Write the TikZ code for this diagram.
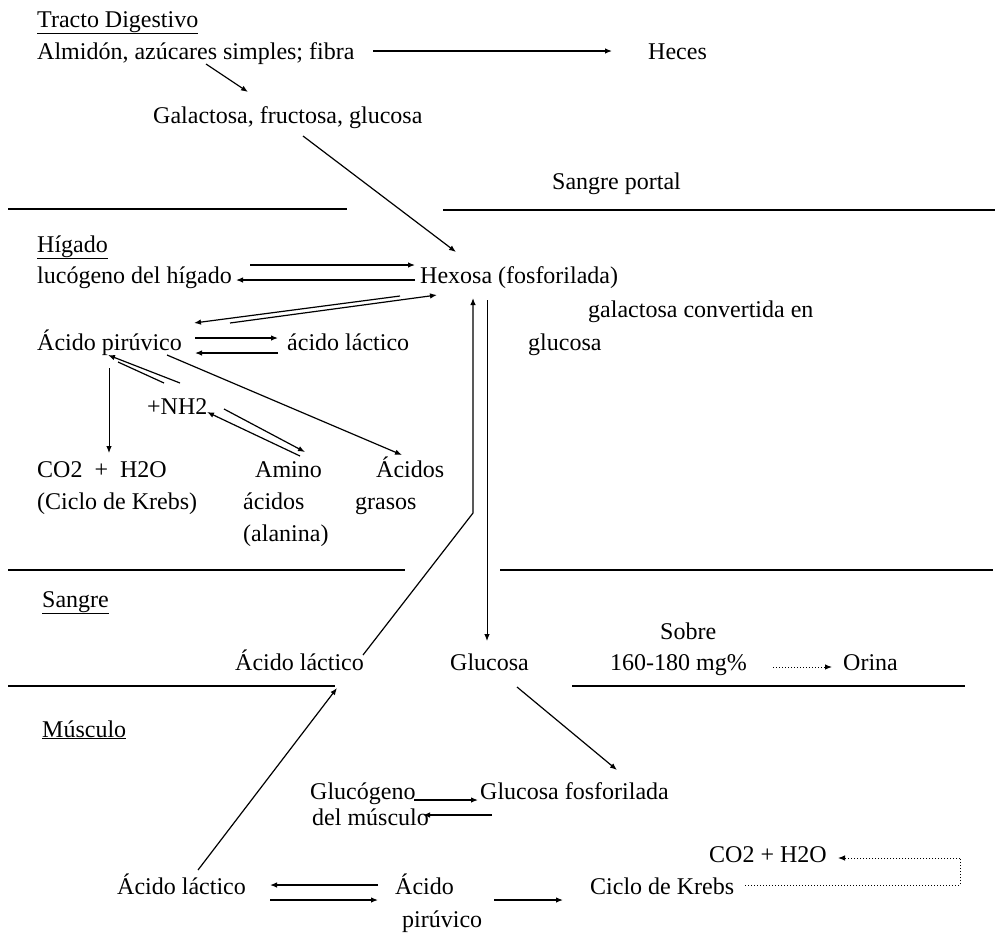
\documentclass[tikz,border=0pt]{standalone}
\usepackage{fontspec}
\setmainfont{Liberation Serif}
\usetikzlibrary{arrows.meta}
\begin{document}
\begin{tikzpicture}[x=1pt,y=-1pt,
 lbl/.style={anchor=base west,inner sep=0pt,font=\fontsize{24}{28}\selectfont},
 arr/.style={line width=1.2pt,-{Latex[length=7pt,width=5.5pt]}},
 ln/.style={line width=1.2pt},
 sep/.style={line width=2.6pt},
 dotarr/.style={line width=1pt,dotted,-{Latex[length=7pt,width=5.5pt]}},
 dotln/.style={line width=1pt,dotted}]
\useasboundingbox (0,0) rectangle (995,938);
% section separators
\draw[sep] (8,209) -- (347,209);
\draw[sep] (443,210) -- (995,210);
\draw[sep] (8,570) -- (405,570);
\draw[sep] (500,570) -- (993,570);
\draw[sep] (8,686) -- (335,686);
\draw[sep] (572,686) -- (965,686);
% texts
\node[lbl] (tracto) at (37,27) {\underline{Tracto Digestivo}};
\node[lbl] (almidon) at (37,59) {Almidón, azúcares simples; fibra};
\node[lbl] (heces) at (648,59) {Heces};
\node[lbl] (galac) at (153,123) {Galactosa, fructosa, glucosa};
\node[lbl] (portal) at (552,189) {Sangre portal};
\node[lbl] (higado) at (37,252) {\underline{Hígado}};
\node[lbl] (glucogenoH) at (37,283) {lucógeno del hígado};
\node[lbl] (hexosa) at (420,283) {Hexosa (fosforilada)};
\node[lbl] (galconv) at (588,317) {galactosa convertida en};
\node[lbl] (glucosaH) at (528,350) {glucosa};
\node[lbl] (piruvH) at (37,350) {Ácido pirúvico};
\node[lbl] (lactH) at (287,350) {ácido láctico};
\node[lbl] (nh) at (147,414) {+NH2};
\node[lbl] (co2a) at (37,477) {CO2\ \ +\ \ H2O};
\node[lbl] (krebsa) at (37,509) {(Ciclo de Krebs)};
\node[lbl] (amino1) at (255,477) {Amino};
\node[lbl] (amino2) at (243,509) {ácidos};
\node[lbl] (amino3) at (243,541) {(alanina)};
\node[lbl] (grasos1) at (376,477) {Ácidos};
\node[lbl] (grasos2) at (355,509) {grasos};
\node[lbl] (sangre) at (42,607) {\underline{Sangre}};
\node[lbl] (lactS) at (235,670) {Ácido láctico};
\node[lbl] (glucS) at (450,670) {Glucosa};
\node[lbl] (sobre) at (660,639) {Sobre};
\node[lbl] (mg) at (610,670) {160-180 mg\%};
\node[lbl] (orina) at (843,670) {Orina};
\node[lbl] (musculo) at (42,737) {\underline{Músculo}};
\node[lbl] (glucogM1) at (310,799) {Glucógeno};
\node[lbl] (glucogM2) at (312,825) {del músculo};
\node[lbl] (glucfos) at (480,799) {Glucosa fosforilada};
\node[lbl] (co2b) at (709,862) {CO2 + H2O};
\node[lbl] (krebsb) at (590,894) {Ciclo de Krebs};
\node[lbl] (piruvM1) at (395,894) {Ácido};
\node[lbl] (piruvM2) at (402,927) {pirúvico};
\node[lbl] (lactM) at (117,894) {Ácido láctico};
% connector end points
\coordinate (a1) at (373,51); \coordinate (a2) at (612,51);
\coordinate (b1) at (206,64); \coordinate (b2) at (248,92);
\coordinate (c1) at (303,136); \coordinate (c2) at (456,252);
\coordinate (d1) at (250,265); \coordinate (d2) at (415,265);
\coordinate (e1) at (415,280); \coordinate (e2) at (236,280);
\coordinate (f1) at (400,296); \coordinate (f2) at (194,323);
\coordinate (g1) at (230,323); \coordinate (g2) at (437,295);
\coordinate (h1) at (195,338); \coordinate (h2) at (278,338);
\coordinate (i1) at (278,353); \coordinate (i2) at (195,353);
\coordinate (j1) at (109,368); \coordinate (j2) at (109,453);
\coordinate (k1) at (180,383); \coordinate (k2) at (108,355);
\coordinate (k3) at (164,383); \coordinate (k4) at (118,362);
\coordinate (l1) at (300,456); \coordinate (l2) at (207,412);
\coordinate (m1) at (224,409); \coordinate (m2) at (305,452);
\coordinate (n1) at (167,355); \coordinate (n2) at (402,455);
\coordinate (o1) at (363,655); \coordinate (o2) at (473,513); \coordinate (o3) at (473,298);
\coordinate (p1) at (487,300); \coordinate (p2) at (487,641);
\coordinate (q1) at (517,687); \coordinate (q2) at (617,770);
\coordinate (r1) at (198,870); \coordinate (r2) at (337,688);
\coordinate (s1) at (414,800); \coordinate (s2) at (478,800);
\coordinate (t1) at (492,815); \coordinate (t2) at (423,815);
\coordinate (u1) at (378,885); \coordinate (u2) at (270,885);
\coordinate (v1) at (270,900); \coordinate (v2) at (378,900);
\coordinate (w1) at (494,900); \coordinate (w2) at (563,900);
\coordinate (x1) at (745,885); \coordinate (x2) at (960,885); \coordinate (x3) at (960,858); \coordinate (x4) at (838,858);
\coordinate (y1) at (773,667); \coordinate (y2) at (832,667);
% connectors
\draw[arr] (a1) -- (a2);
\draw[arr] (b1) -- (b2);
\draw[arr] (c1) -- (c2);
\draw[arr] (d1) -- (d2);
\draw[arr] (e1) -- (e2);
\draw[arr] (f1) -- (f2);
\draw[arr] (g1) -- (g2);
\draw[arr] (h1) -- (h2);
\draw[arr] (i1) -- (i2);
\draw[line width=0.9pt,-{Latex[length=7pt,width=5.5pt]}] (j1) -- (j2);
\draw[arr] (k1) -- (k2);
\draw[ln] (k3) -- (k4);
\draw[arr] (l1) -- (l2);
\draw[arr] (m1) -- (m2);
\draw[arr] (n1) -- (n2);
\draw[arr] (o1) -- (o2) -- (o3);
\draw[line width=0.9pt,-{Latex[length=7pt,width=5.5pt]}] (p1) -- (p2);
\draw[arr] (q1) -- (q2);
\draw[arr] (r1) -- (r2);
\draw[arr] (s1) -- (s2);
\draw[arr] (t1) -- (t2);
\draw[arr] (u1) -- (u2);
\draw[arr] (v1) -- (v2);
\draw[arr] (w1) -- (w2);
\draw[dotln] (x1) -- (x2) -- (x3);
\draw[dotarr] (x3) -- (x4);
\draw[dotarr] (y1) -- (y2);
\end{tikzpicture}
\end{document}
